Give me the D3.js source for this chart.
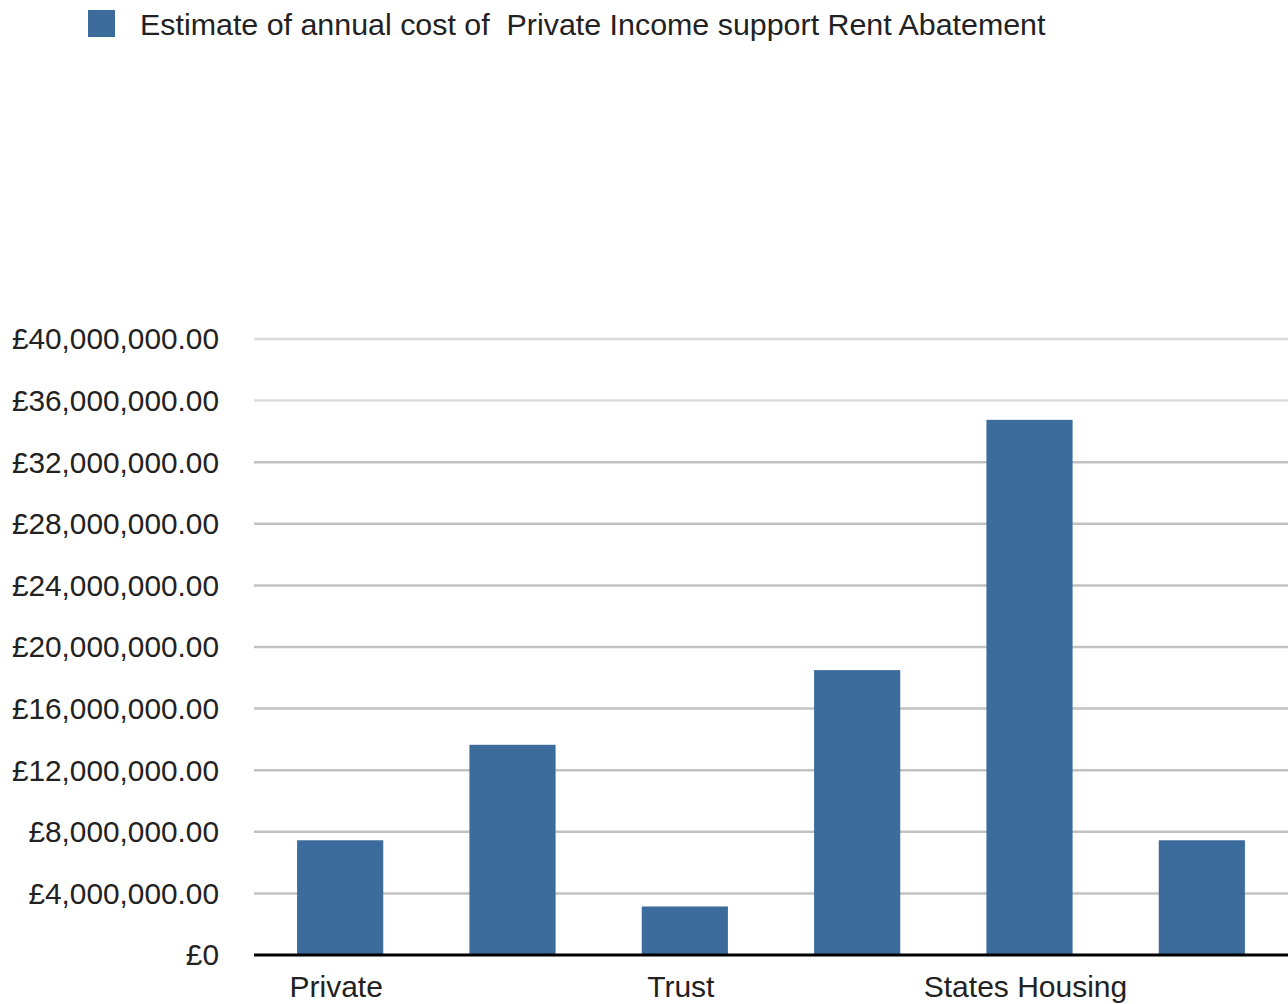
<!DOCTYPE html>
<html>
<head>
<meta charset="utf-8">
<script src="https://cdn.jsdelivr.net/npm/d3@7"></script>
<style>
  body { margin: 0; background: #fff; }
  svg { display: block; font-family: "Liberation Sans", Arial, sans-serif; }
</style>
</head>
<body>
<svg id="chart" width="1288" height="1004"></svg>
<script>
const seriesName = "Estimate of annual cost of  Private Income support Rent Abatement";
const categories = ["Private", "", "Trust", "", "States Housing", ""];
const values = [7450000, 13650000, 3150000, 18500000, 34750000, 7450000];
const yTicks = [0, 4e6, 8e6, 12e6, 16e6, 20e6, 24e6, 28e6, 32e6, 36e6, 40e6];

const barColor = "#3b6c9c";
const svg = d3.select("#chart");

const x = d3.scaleBand(d3.range(categories.length), [254, 1288]).paddingInner(0.5).paddingOuter(0.25);
const y = d3.scaleLinear([0, 40e6], [955, 339]);

const money = d3.format(",.2f");
const fmt = (d) => (d === 0 ? "£0" : "£" + money(d));

// gridlines
svg.append("g")
  .selectAll("line")
  .data(yTicks.filter((d) => d > 0))
  .join("line")
  .attr("x1", 254)
  .attr("x2", 1288)
  .attr("y1", (d) => y(d))
  .attr("y2", (d) => y(d))
  .attr("stroke", (d) => (d >= 36e6 ? "#dcdcdc" : "#c2c2c2"))
  .attr("stroke-width", 2.5);

// y labels
svg.append("g")
  .selectAll("text")
  .data(yTicks)
  .join("text")
  .attr("x", 219)
  .attr("y", (d) => y(d))
  .attr("dy", "0.35em")
  .attr("text-anchor", "end")
  .attr("font-size", 29.8)
  .attr("fill", "#222")
  .text(fmt);

// bars
svg.append("g")
  .selectAll("rect")
  .data(values)
  .join("rect")
  .attr("x", (d, i) => x(i))
  .attr("width", x.bandwidth())
  .attr("y", (d) => y(d))
  .attr("height", (d) => y(0) - y(d))
  .attr("fill", barColor);

// baseline
svg.append("line")
  .attr("x1", 254)
  .attr("x2", 1288)
  .attr("y1", y(0))
  .attr("y2", y(0))
  .attr("stroke", "#000")
  .attr("stroke-width", 3);

// category labels
svg.append("g")
  .selectAll("text")
  .data(categories)
  .join("text")
  .attr("x", (d, i) => x(i) + x.bandwidth() / 2 - 4)
  .attr("y", 997)
  .attr("text-anchor", "middle")
  .attr("font-size", 30)
  .attr("fill", "#222")
  .text((d) => d);

// legend
const legend = svg.append("g");
legend.append("rect")
  .attr("x", 88)
  .attr("y", 10)
  .attr("width", 27)
  .attr("height", 27)
  .attr("fill", barColor);
legend.append("text")
  .attr("x", 140)
  .attr("y", 24)
  .attr("dy", "0.35em")
  .attr("font-size", 30.4)
  .attr("fill", "#222")
  .style("white-space", "pre")
  .text(seriesName);
</script>
</body>
</html>
